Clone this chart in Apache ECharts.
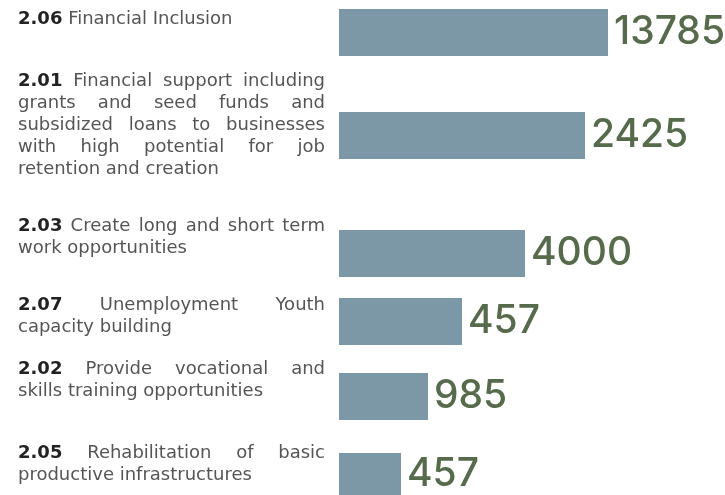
<!DOCTYPE html>
<html>
<head>
<meta charset="utf-8">
<script src="https://cdn.jsdelivr.net/npm/echarts@6/dist/echarts.min.js"></script>
<style>
  html, body { margin: 0; padding: 0; background: #fff; }
  #main { width: 725px; height: 495px; }
</style>
</head>
<body>
<div id="main"></div>
<script>
// chart data
const codes = ['2.06', '2.01', '2.03', '2.07', '2.02', '2.05'];
const names = [
  'Financial Inclusion',
  'Financial support including\ngrants and seed funds and\nsubsidized loans to businesses\nwith high potential for job\nretention and creation',
  'Create long and short term\nwork opportunities',
  'Unemployment Youth\ncapacity building',
  'Provide vocational and\nskills training opportunities',
  'Rehabilitation of basic\nproductive infrastructures'
];
const values = [13785, 2425, 4000, 457, 985, 457];
// bar lengths as drawn (not proportional to the values)
const barLength = [269, 246, 186, 123, 89, 62];

// layout
const barTop = [9, 112, 230, 298, 373, 453];
const textTop = [19, 81.5, 226, 305, 369, 453];
const textLeft = 18, textRight = 325, lineH = 22;
const FONT = 'DejaVu Sans', SIZE = 18;
const NUM_FONT = 'Inter';

const ctx = document.createElement('canvas').getContext('2d');
function measure(t, bold) {
  ctx.font = (bold ? 'bold ' : '') + SIZE + 'px "' + FONT + '"';
  return ctx.measureText(t).width;
}

// justified label text, word by word
let graphic = [];
codes.forEach((code, i) => {
  let lines = names[i].split('\n');
  lines.forEach((line, j) => {
    let words = line.split(' ').map(t => ({ t: t, bold: false }));
    if (j === 0) words.unshift({ t: code, bold: true });
    let total = words.reduce((s, o) => s + measure(o.t, o.bold), 0);
    let last = j === lines.length - 1;
    let gap = last ? measure(' ') : (textRight - textLeft - total) / (words.length - 1);
    let x = textLeft;
    words.forEach(o => {
      graphic.push({
        type: 'text', x: x, y: textTop[i] + j * lineH, silent: true,
        style: {
          text: o.t, fontFamily: FONT, fontSize: SIZE,
          fontWeight: o.bold ? 'bold' : 'normal',
          fill: o.bold ? '#222222' : '#555555',
          verticalAlign: 'middle'
        }
      });
      x += measure(o.t, o.bold) + gap;
    });
  });
});

let grid = [], xAxis = [], yAxis = [], series = [];
codes.forEach((code, i) => {
  grid.push({ left: 339, top: barTop[i], width: 300, height: 47 });
  xAxis.push({ type: 'value', gridIndex: i, min: 0, max: 300, show: false });
  yAxis.push({ type: 'category', gridIndex: i, data: [code], show: false });
  series.push({
    type: 'bar',
    xAxisIndex: i,
    yAxisIndex: i,
    data: [barLength[i]],
    barWidth: 47,
    itemStyle: { color: '#7c98a6' },
    label: {
      show: true,
      position: 'right',
      distance: 6,
      formatter: String(values[i]),
      color: '#566b4b',
      fontFamily: NUM_FONT,
      fontWeight: 500,
      fontSize: 39
    },
    silent: true
  });
});

var myChart = echarts.init(document.getElementById('main'));
myChart.setOption({
  animation: false,
  grid: grid,
  xAxis: xAxis,
  yAxis: yAxis,
  graphic: graphic,
  series: series
});
</script>
</body>
</html>
